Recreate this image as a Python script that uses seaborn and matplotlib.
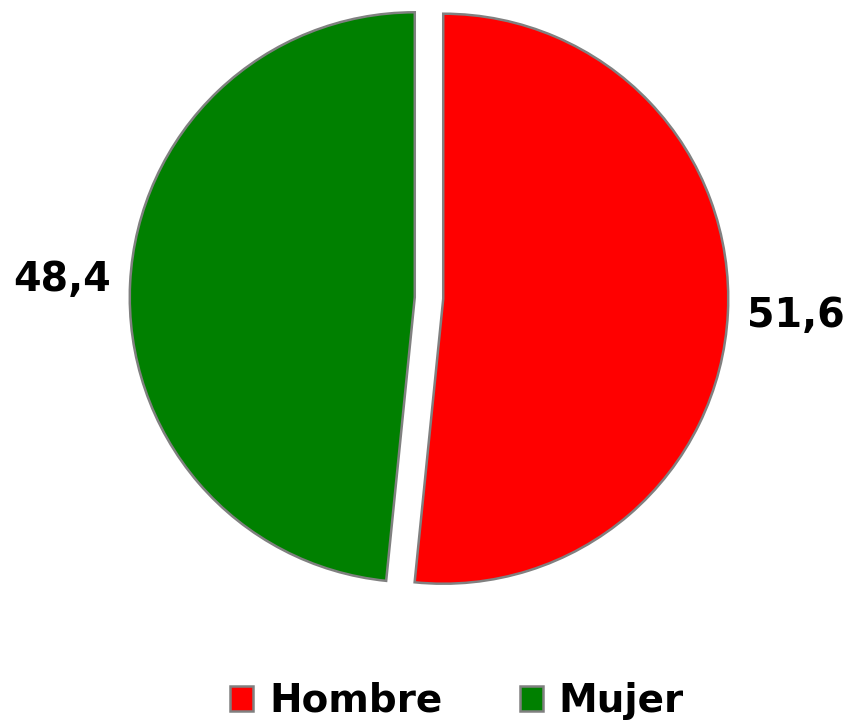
import matplotlib.pyplot as plt
import seaborn as sns

categorias = ["Hombre", "Mujer"]
valores = [51.6, 48.4]
etiquetas = ["51,6", "48,4"]
colores = ["#ff0000", "#008000"]

sns.set_theme(style="white")
plt.rcParams["font.family"] = ["DejaVu Sans"]

fig = plt.figure(figsize=(8.54, 7.25), dpi=100)
ax = fig.add_axes([87 / 854, 85 / 725, 684 / 854, 684 / 725])

wedges, texts = ax.pie(
    valores,
    labels=etiquetas,
    colors=colores,
    startangle=90,
    counterclock=False,
    explode=[0.05, 0.05],
    labeldistance=1.24,
    wedgeprops=dict(edgecolor="#808080", linewidth=1.8),
    textprops=dict(fontsize=28.5, fontweight="bold", color="black"),
)
for t in texts:
    t.set_horizontalalignment("center")
    t.set_verticalalignment("center")

ax.set_xlim(-1.2, 1.2)
ax.set_ylim(-1.2, 1.2)
ax.set_aspect("equal")

fig.legend(
    wedges, categorias,
    loc="center", bbox_to_anchor=(457 / 854, 1 - 701 / 725),
    ncol=2, frameon=False, labelcolor="black",
    prop=dict(size=28, weight="bold"),
    handlelength=0.6, handleheight=0.6,
    handletextpad=0.4, columnspacing=2.0,
)

fig.savefig("out.png", dpi=100)
